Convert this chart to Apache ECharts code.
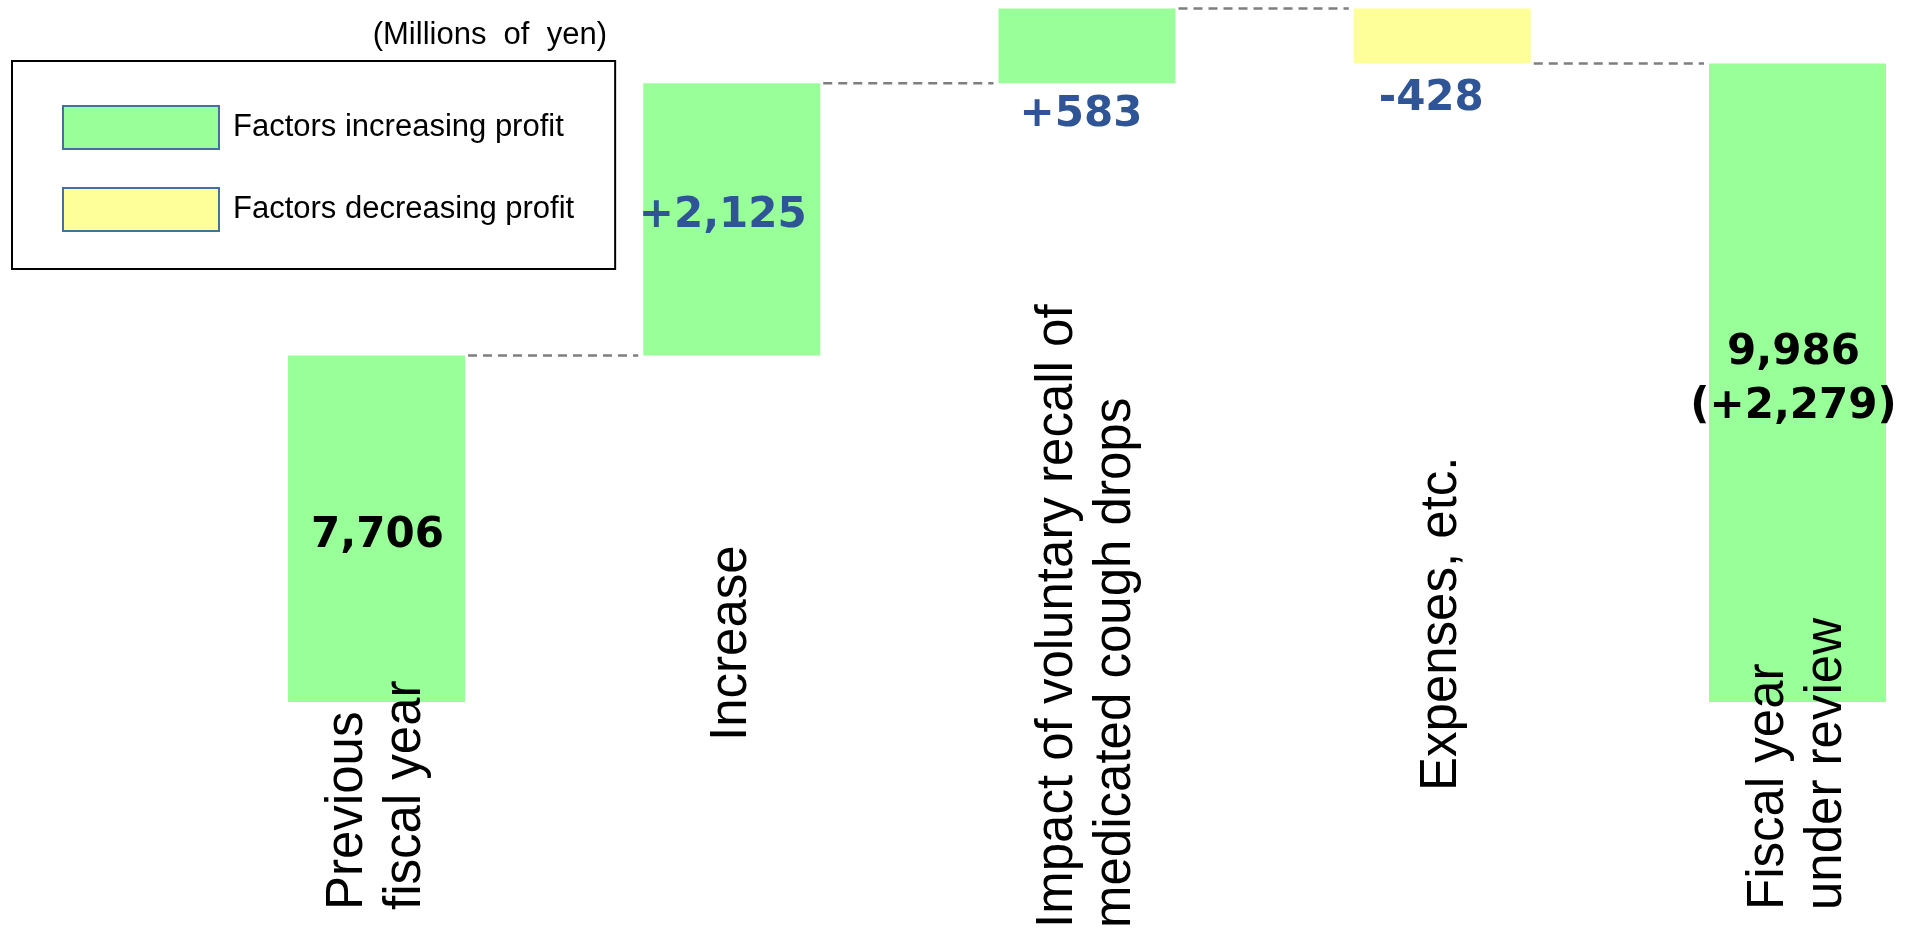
<!DOCTYPE html>
<html>
<head>
<meta charset="utf-8">
<title>Profit bridge</title>
<script src="https://cdn.jsdelivr.net/npm/echarts@6.0.0/dist/echarts.min.js"></script>
<style>
  html, body { margin: 0; padding: 0; background: #fff; }
  #chart { width: 1915px; height: 934px; }
</style>
</head>
<body>
<div id="chart"></div>
<script>
// categories as on the slide (line breaks kept)
var categories = ['Previous\nfiscal year', 'Increase',
    'Impact of voluntary recall of\nmedicated cough drops', 'Expenses, etc.',
    'Fiscal year\nunder review'];
// steps in millions of yen, first and last are totals
var stepValues = [7706, 2125, 583, -428, 9986];
var isTotal = [true, false, false, false, true];
var valueLabels = ['7,706', '+2,125', '+583', '-428', '9,986\n(+2,279)'];
var legendNames = ['Factors increasing profit', 'Factors decreasing profit'];
var unitText = '(Millions  of  yen)';
// value axis is cut, bars start at 5,000
var yMin = 5000;
var yMax = 10450;

var barWidth = 177;
var green = '#99FF99';
var yellow = '#FFFF99';
var blue = '#2F5597';

// build the invisible base + visible parts of the waterfall
var baseData = [], upData = [], downData = [], levels = [];
var running = 0;
stepValues.forEach(function (v, i) {
    if (isTotal[i]) {
        baseData.push(0); upData.push(v); downData.push('-');
        running = v;
    } else if (v >= 0) {
        baseData.push(running); upData.push(v); downData.push('-');
        running += v;
    } else {
        running += v;
        baseData.push(running); upData.push('-'); downData.push(-v);
    }
    if (i < stepValues.length - 1) levels.push([i, running]);
});

// label look per bar
var labelStyles = [
    {position: 'inside', color: '#000', offset: [1, 7]},
    {position: 'inside', color: blue, offset: [-9, -3]},
    {position: 'bottom', color: blue, distance: 8, offset: [-6, 0]},
    {position: 'bottom', color: blue, distance: 12, offset: [-11, 0]},
    {position: 'inside', color: '#000', offset: [-4, -3], lineHeight: 54}
];
// shift of each rotated axis label away from its anchor
var labelPad = [18, 187, 0, 137, 18];

function withLabel(list) {
    return list.map(function (v, i) {
        if (v === '-') return '-';
        var ls = labelStyles[i];
        return {
            value: v,
            label: {
                show: true,
                position: ls.position,
                distance: ls.distance || 5,
                offset: ls.offset,
                formatter: valueLabels[i],
                color: ls.color,
                fontFamily: 'DejaVu Sans',
                fontWeight: 'bold',
                fontSize: 42,
                lineHeight: ls.lineHeight || 48
            }
        };
    });
}

var myChart = echarts.init(document.getElementById('chart'));

var option = {
    animation: false,
    title: {
        text: unitText,
        right: 1308,
        top: 20,
        padding: 0,
        textStyle: {
            fontFamily: 'Liberation Sans',
            fontWeight: 'normal',
            fontSize: 31,
            color: '#000'
        }
    },
    legend: {
        data: legendNames,
        orient: 'vertical',
        left: 12,
        top: 61,
        padding: [44, 41, 37, 50],
        itemWidth: 156,
        itemHeight: 43,
        itemGap: 37,
        icon: 'rect',
        selectedMode: false,
        borderColor: '#000',
        borderWidth: 2,
        itemStyle: {borderColor: '#41719C', borderWidth: 2},
        textStyle: {
            fontFamily: 'Liberation Sans',
            fontSize: 31,
            color: '#000',
            padding: [20, 0, 0, 9]
        }
    },
    grid: {
        left: 376.5,
        right: 117.5,
        top: 4,
        bottom: 232,
        containLabel: false,
        outerBoundsMode: 'none'
    },
    xAxis: {
        type: 'category',
        z: 10,
        boundaryGap: false,
        data: categories.map(function (c, i) {
            return {
                value: c,
                textStyle: {
                    align: 'left',
                    verticalAlign: 'middle',
                    padding: [0, 0, 0, labelPad[i]]
                }
            };
        }),
        axisLine: {show: false},
        axisTick: {show: false},
        axisLabel: {
            interval: 0,
            rotate: 90,
            align: 'left',
            verticalAlign: 'middle',
            margin: 226,
            fontFamily: 'Liberation Sans',
            fontSize: 51,
            lineHeight: 58,
            color: '#000'
        }
    },
    yAxis: {
        type: 'value',
        min: yMin,
        max: yMax,
        show: false,
        splitLine: {show: false}
    },
    series: [
        {
            name: 'base',
            type: 'bar',
            stack: 'total',
            barWidth: barWidth,
            silent: true,
            itemStyle: {color: 'rgba(0,0,0,0)'},
            emphasis: {disabled: true},
            data: baseData
        },
        {
            name: legendNames[0],
            type: 'bar',
            stack: 'total',
            barWidth: barWidth,
            clip: true,
            itemStyle: {color: green},
            emphasis: {disabled: true},
            data: withLabel(upData)
        },
        {
            name: legendNames[1],
            type: 'bar',
            stack: 'total',
            barWidth: barWidth,
            clip: true,
            itemStyle: {color: yellow},
            emphasis: {disabled: true},
            data: withLabel(downData)
        },
        {
            // dashed connectors between neighbouring bars
            name: 'connector',
            type: 'custom',
            silent: true,
            z: 3,
            data: levels,
            renderItem: function (params, api) {
                var i = api.value(0);
                var lv = api.value(1);
                var p1 = api.coord([i, lv]);
                var p2 = api.coord([i + 1, lv]);
                return {
                    type: 'line',
                    shape: {
                        x1: p1[0] + barWidth / 2 + 3, y1: p1[1],
                        x2: p2[0] - barWidth / 2 - 5, y2: p2[1]
                    },
                    style: {stroke: '#7F7F7F', lineWidth: 2.5, lineDash: [9, 6]}
                };
            }
        }
    ]
};

myChart.setOption(option);
</script>
</body>
</html>
